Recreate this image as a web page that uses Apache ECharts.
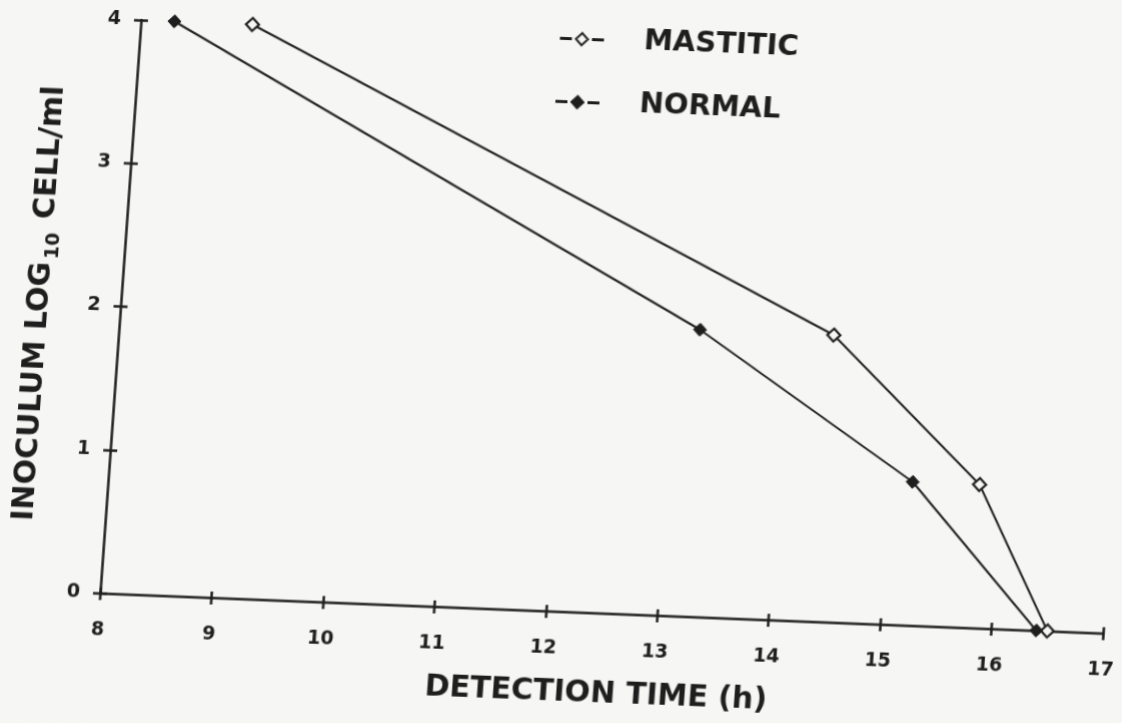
<!DOCTYPE html>
<html>
<head>
<meta charset="utf-8">
<script src="https://cdn.jsdelivr.net/npm/echarts@6/dist/echarts.min.js"></script>
<style>
  html, body { margin: 0; padding: 0; background: #f6f6f4; overflow: hidden; }
  #chart {
    width: 1122px; height: 723px;
    transform-origin: 100px 593px;
    transform: matrix(1, 0.04, -0.0716, 1, 0, 0);
  }
</style>
</head>
<body>
<div id="chart"></div>
<script>
// ---- data ----
const logInoculum   = [4, 2, 1, 0];              // INOCULUM LOG10 CELL/ml
const mastiticTime  = [9.0, 14.4, 15.8, 16.5];   // detection time (h), MASTITIC
const normalTime    = [8.3, 13.2, 15.2, 16.4];   // detection time (h), NORMAL
const seriesNames   = ['MASTITIC', 'NORMAL'];
const xRange        = [8, 17];
const yRange        = [0, 4];

const ink = '#1e1e1e';
const paper = '#f6f6f4';
const font = 'DejaVu Sans';

const pairs = (xs, ys) => xs.map((x, i) => [x, ys[i]]);

// legend glyph "-◇-": dash, diamond, dash
const legendIcon = 'path://M0,6.4L10,6.4L10,7.6L0,7.6Z M21,1L27,7L21,13L15,7Z M32,6.4L42,6.4L42,7.6L32,7.6Z';

const chart = echarts.init(document.getElementById('chart'), null, { renderer: 'canvas' });

const tickLabel = { color: ink, fontFamily: font, fontWeight: 'bold', fontSize: 19 };

chart.setOption({
  backgroundColor: paper,
  animation: false,
  grid: { left: 100, top: 20, width: 1003, height: 573, containLabel: false, outerBoundsMode: 'none' },
  legend: {
    orient: 'vertical',
    left: 514, top: 2,
    itemWidth: 42, itemHeight: 14, itemGap: 34,
    icon: legendIcon,
    data: seriesNames,
    textStyle: { color: ink, fontFamily: font, fontWeight: 'bold', fontSize: 29, padding: [0, 0, 0, 36] }
  },
  xAxis: [{
    type: 'value', min: xRange[0], max: xRange[1], interval: 1,
    name: 'DETECTION TIME (h)', nameLocation: 'middle', nameGap: 66,
    nameTextStyle: { color: ink, fontFamily: font, fontWeight: 'bold', fontSize: 30 },
    axisLine: { show: true, onZero: false, lineStyle: { color: ink, width: 2.5 } },
    axisTick: { show: true, inside: false, length: 7, lineStyle: { color: ink, width: 2.5 } },
    axisLabel: Object.assign({ margin: 28 }, tickLabel),
    splitLine: { show: false }
  }, {
    type: 'value', min: xRange[0], max: xRange[1], interval: 1, position: 'bottom',
    axisLine: { show: false },
    axisTick: { show: true, inside: true, length: 6, lineStyle: { color: ink, width: 2.5 } },
    axisLabel: { show: false }, splitLine: { show: false }
  }],
  yAxis: [{
    type: 'value', min: yRange[0], max: yRange[1], interval: 1,
    name: '{m|INOCULUM LOG}{s|10}{m| CELL/ml}', nameLocation: 'middle', nameGap: 61, nameRotate: 90,
    nameTextStyle: {
      rich: {
        m: { color: ink, fontFamily: font, fontWeight: 'bold', fontSize: 30, lineHeight: 40, verticalAlign: 'middle' },
        s: { color: ink, fontFamily: font, fontWeight: 'bold', fontSize: 19, lineHeight: 40, verticalAlign: 'bottom', padding: [0, 3, 0, 3] }
      }
    },
    axisLine: { show: true, onZero: false, lineStyle: { color: ink, width: 2.5 } },
    axisTick: { show: true, inside: false, length: 7, lineStyle: { color: ink, width: 2.5 } },
    axisLabel: Object.assign({ margin: 20 }, tickLabel),
    splitLine: { show: false }
  }, {
    type: 'value', min: yRange[0], max: yRange[1], interval: 1, position: 'left',
    axisLine: { show: false },
    axisTick: { show: true, inside: true, length: 7, lineStyle: { color: ink, width: 2.5 } },
    axisLabel: { show: false }, splitLine: { show: false }
  }],
  series: [{
    name: seriesNames[0], type: 'line', xAxisIndex: 0, yAxisIndex: 0,
    data: pairs(mastiticTime, logInoculum),
    symbol: 'diamond', symbolSize: 13,
    lineStyle: { color: ink, width: 2 },
    itemStyle: { color: paper, borderColor: ink, borderWidth: 2.2 }
  }, {
    name: seriesNames[1], type: 'line', xAxisIndex: 0, yAxisIndex: 0,
    data: pairs(normalTime, logInoculum),
    symbol: 'diamond', symbolSize: 13,
    lineStyle: { color: ink, width: 2 },
    itemStyle: { color: ink, borderColor: ink, borderWidth: 1 }
  }]
});
</script>
</body>
</html>
